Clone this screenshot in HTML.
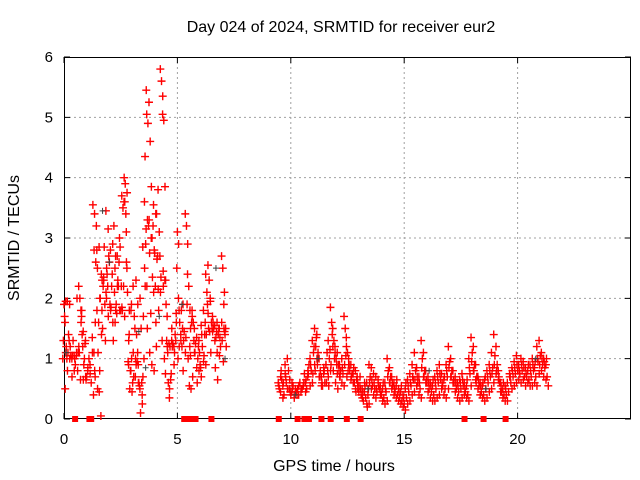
<!DOCTYPE html>
<html><head><meta charset="utf-8"><style>
html,body{margin:0;padding:0;background:#fff;}
svg{display:block;font-family:"Liberation Sans","DejaVu Sans",sans-serif;}
</style></head><body>
<svg id="chart" width="640" height="480" viewBox="0 0 640 480" xmlns="http://www.w3.org/2000/svg">
<rect width="640" height="480" fill="#fff"/>
<text x="341" y="32" font-size="16" text-anchor="middle">Day 024 of 2024, SRMTID for receiver eur2</text>
<text x="334" y="471" font-size="16" text-anchor="middle">GPS time / hours</text>
<text x="19" y="238" font-size="16" text-anchor="middle" transform="rotate(-90 19 238)">SRMTID / TECUs</text>
<g id="grid"></g><g id="axes"></g><g id="marks"></g>
</svg>
<script>
const xTicks=[0,5,10,15,20];
const yTicks=[0,1,2,3,4,5,6];
const groupHours=[0.0,0.1,0.2,0.3,0.4,0.5,0.6,0.7,0.8,0.9,1.0,1.1,1.2,1.3,1.4,1.5,1.6,1.7,1.8,1.9,2.0,2.1,2.2,2.3,2.4,2.5,2.6,2.7,2.8,2.9,3.0,3.1,3.2,3.3,3.4,3.5,3.6,3.7,3.8,3.9,4.0,4.1,4.2,4.3,4.4,4.5,4.6,4.7,4.8,4.9,5.0,5.1,5.2,5.3,5.4,5.5,5.6,5.7,5.8,5.9,6.0,6.1,6.2,6.3,6.4,6.5,6.6,6.7,6.8,6.9,7.0,7.1];
const groupValues=[[1.0,1.9,0.5,1.3,1.7,1.1],[1.6,1.2,0.8,1.95,1.0],[1.95,1.4,1.0,1.1,1.3],[1.9,1.05,0.7,1.2],[1.0,1.3,0.8,1.05],[1.05,0.9,1.1,1.0],[1.05,0.8,1.2,2.0,1.1],[2.2,2.0,1.6,1.1,0.65,1.8],[1.8,1.4,0.65,1.7,1.2],[1.45,1.0,0.7,0.9,1.25],[1.3,0.7,0.85,0.65],[0.8,1.0,0.75],[0.9,0.6,1.1],[1.35,0.4,0.8,3.55,2.8,1.6],[3.4,2.6,1.8,0.7,3.2,0.5,1.1],[2.8,1.1,0.45,2.5,1.6,2.0],[2.85,2.0,1.4,0.8,0.05,2.3],[2.4,1.5,2.3,1.8,2.2],[2.35,1.9,2.1,2.85,1.3,2.5],[3.45,2.4,1.7,2.0,2.2],[3.15,2.6,1.8,2.7,1.9],[2.8,2.2,1.6,1.85,2.4],[2.9,3.2,1.6,1.3,2.1,1.8],[2.5,1.9,2.2,2.7,1.75],[2.7,2.2,1.8,2.3,2.6],[3.0,1.8,1.85,2.85,2.2],[3.7,3.5,4.0,1.8,2.2,3.6],[3.6,3.9,2.6,1.7,3.4,3.75],[3.1,2.1,1.3,2.5,0.95,1.8],[0.9,0.5,1.8,1.4,0.8,1.0],[0.8,0.45,1.1,1.9,0.6],[2.2,1.7,1.0,0.7,1.5,0.9],[0.7,1.4,1.9,2.3,0.95,0.6],[1.1,0.6,2.0,0.9,0.55],[0.5,1.5,0.25,0.1,0.6,0.7],[0.4,1.7,2.5,2.85,1.0,2.2],[3.6,2.9,2.2,4.35,5.45,3.3],[5.05,4.9,3.3,1.5,3.2,1.1,3.15],[5.25,4.6,3.85,2.75,1.75,3.0],[3.0,2.35,2.1,0.9,3.2,2.8],[3.55,2.75,1.6,0.8,2.2,3.4],[3.4,2.65,2.15,1.2,2.7],[3.8,3.1,2.1,1.8,2.7],[5.8,5.6,5.35,2.35,1.3,2.2],[5.05,4.95,3.85,2.45,1.0,2.3],[2.3,1.9,1.2,0.75,1.3],[1.7,0.6,0.5,1.1,1.25],[0.35,0.65,1.5,1.2,0.75],[1.3,1.25,0.9,1.2],[1.2,1.4,1.6,1.1,1.3],[1.75,3.1,2.9,2.5,1.0,1.2],[2.0,1.6,1.3,1.8],[1.4,1.2,0.8,1.8,1.5],[1.9,1.45,1.1,1.3],[3.4,3.2,2.9,1.35,1.9],[2.4,2.2,1.8,1.0,0.55,1.5],[1.2,0.5,1.7,1.05,1.6],[1.8,1.6,1.1,0.7,1.3],[1.5,1.25,0.85,1.1],[1.35,1.0,0.8,0.6,1.2],[1.3,0.9,0.7,1.1,0.85],[1.55,1.2,0.95,1.4],[1.8,1.4,0.9,1.05,1.6],[2.4,2.1,1.75,1.4,1.9],[2.55,2.3,1.95,1.5,1.45],[2.0,1.6,1.45,1.1,1.5],[1.7,1.5,1.3,1.6],[1.55,1.35,1.1,0.85,1.45],[1.6,1.4,1.05,0.65,1.5],[1.5,1.2,1.6,1.35],[2.7,2.5,1.5,1.3,0.95,1.45],[1.9,1.4,1.2,2.1,1.5]];
const lateHours=[9.5,9.6,9.7,9.8,9.9,10.0,10.1,10.2,10.3,10.4,10.5,10.6,10.7,10.8,10.9,11.0,11.1,11.2,11.3,11.4,11.5,11.6,11.7,11.8,11.9,12.0,12.1,12.2,12.3,12.4,12.5,12.6,12.7,12.8,12.9,13.0,13.1,13.2,13.3,13.4,13.5,13.6,13.7,13.8,13.9,14.0,14.1,14.2,14.3,14.4,14.5,14.6,14.7,14.8,14.9,15.0,15.1,15.2,15.3,15.4,15.5,15.6,15.7,15.8,15.9,16.0,16.1,16.2,16.3,16.4,16.5,16.6,16.7,16.8,16.9,17.0,17.1,17.2,17.3,17.4,17.5,17.6,17.7,17.8,17.9,18.0,18.1,18.2,18.3,18.4,18.5,18.6,18.7,18.8,18.9,19.0,19.1,19.2,19.3,19.4,19.5,19.6,19.7,19.8,19.9,20.0,20.1,20.2,20.3,20.4,20.5,20.6,20.7,20.8,20.9,21.0,21.1,21.2,21.3];
const lateValues=[[0.6,0.5,0.7,0.55],[0.45,0.65,0.35,0.8],[0.55,0.4,0.75,0.6],[0.9,0.6,0.5,0.7],[1.0,0.8,0.65,0.5],[0.5,0.4,0.6,0.45],[0.45,0.55,0.35,0.5],[0.4,0.5,0.45],[0.45,0.5,0.55,0.4],[0.4,0.6,0.5],[0.45,0.5,0.55],[0.55,0.75,0.45,0.6],[0.6,0.5,0.8,0.65],[0.7,0.9,0.55,0.75],[1.0,0.8,0.6,0.9],[1.3,1.1,0.9,0.75,1.2],[1.5,1.2,1.0,0.8,1.35],[1.4,1.1,0.7,0.9],[1.0,0.8,0.55,0.7],[0.7,0.55,0.85,0.6],[0.75,0.6,0.9,0.8],[0.9,1.1,0.7,0.6,0.8],[1.3,1.0,0.8,0.55,1.15],[1.85,1.6,1.2,0.9,1.4],[1.5,1.3,1.1,0.8,1.0],[1.2,1.0,0.75,0.6,0.9],[1.1,0.9,0.7,0.5,0.8],[0.9,0.8,0.6,0.7],[1.0,0.75,0.55,0.85],[1.7,1.5,1.2,0.9,1.05],[1.35,1.1,0.9,0.7,0.8],[1.0,0.8,0.65,0.9],[0.9,0.75,0.6,0.7],[0.75,0.6,0.5,0.85],[0.8,0.65,0.5,0.45,0.7],[0.6,0.45,0.7,0.55],[0.55,0.4,0.35,0.5],[0.5,0.3,0.6,0.45],[0.45,0.35,0.25,0.55],[0.6,0.4,0.25,0.2,0.5],[0.9,0.7,0.5,0.6],[0.85,0.55,0.4,0.65],[0.75,0.5,0.35,0.6],[0.7,0.45,0.6,0.5],[0.65,0.5,0.4,0.55],[0.55,0.4,0.3,0.45],[0.5,0.35,0.25,0.6],[0.6,0.45,0.3,0.5],[1.0,0.8,0.6,0.7],[0.85,0.7,0.5,0.6],[0.7,0.55,0.4,0.6],[0.6,0.45,0.35,0.5],[0.55,0.4,0.3,0.65],[0.5,0.35,0.25,0.45],[0.45,0.3,0.2,0.55],[0.4,0.25,0.15,0.35],[0.5,0.35,0.25,0.6],[0.65,0.45,0.3,0.55],[0.75,0.55,0.4,0.6],[0.9,0.65,0.45,0.7],[1.1,0.8,0.55,0.65],[0.85,0.6,0.4,0.7],[0.7,0.5,0.35,0.6],[1.3,1.0,0.7,0.85],[1.1,0.8,0.6,0.7],[0.8,0.6,0.45,0.65],[0.7,0.5,0.35,0.6],[0.6,0.45,0.3,0.55],[0.55,0.4,0.3,0.65],[0.7,0.5,0.35,0.6],[0.8,0.6,0.4,0.7],[0.9,0.65,0.5,0.75],[0.75,0.55,0.4,0.6],[0.65,0.5,0.35,0.7],[0.9,0.7,0.5,0.8],[1.2,0.95,0.7,0.85],[1.0,0.8,0.6,0.7],[0.8,0.6,0.45,0.65],[0.7,0.5,0.35,0.6],[0.6,0.45,0.3,0.55],[0.65,0.5,0.35,0.6],[0.75,0.55,0.4,0.65],[0.6,0.45,0.35,0.5],[0.55,0.4,0.3,0.65],[1.0,0.75,0.55,0.85],[1.35,1.1,0.8,0.95],[1.2,0.9,0.65,0.8],[0.9,0.7,0.5,0.6],[0.7,0.55,0.4,0.65],[0.6,0.45,0.35,0.55],[0.55,0.4,0.3,0.6],[0.65,0.5,0.35,0.7],[0.8,0.6,0.45,0.7],[0.9,0.7,0.5,0.8],[1.1,0.85,0.6,0.75],[1.4,1.05,0.75,0.9],[1.2,0.9,0.65,0.8],[0.8,0.6,0.45,0.7],[0.6,0.45,0.35,0.55],[0.5,0.4,0.3,0.6],[0.55,0.4,0.3,0.5],[0.6,0.45,0.7],[0.75,0.6,0.5,0.7],[0.85,0.7,0.55,0.8],[0.95,0.75,0.6,0.85],[1.05,0.8,0.65,0.9],[0.9,0.75,0.6,0.8],[1.0,0.8,0.65,0.9],[0.95,0.7,0.55,0.85],[0.85,0.7,0.6,0.75],[0.8,0.65,0.55,0.9],[0.9,0.7,0.55,0.8],[1.0,0.8,0.6,0.9],[0.85,0.7,0.55,0.95],[1.2,0.95,0.75,1.0],[1.3,1.05,0.8,0.9],[1.1,0.9,0.7,1.0],[1.0,0.85,0.65,0.95],[0.9,0.7,0.55,1.0]];
const greyHours=[0.1,1.7,2.0,3.3,3.6,4.2,5.2,6.7,7.1,10.2,11.2,13.4,16.1,18.6,20.8];
const greyValues=[1.1,3.45,2.6,1.45,0.85,1.7,1.9,2.5,1.0,0.4,1.0,0.5,0.8,0.5,1.0];
const zeroHours=[0.49,1.12,1.2,5.3,5.35,5.5,5.6,5.7,5.8,6.5,9.47,10.3,10.6,10.8,11.35,11.76,12.47,13.08,17.66,18.5,19.47];

const L=64,R=631,T=57,B=419,XMAX=25,YMAX=6;
const sx=h=>L+h/XMAX*(R-L);
const sy=v=>B-v/YMAX*(B-T);
const NS='http://www.w3.org/2000/svg';
function mk(tag,attrs,parent){const e=document.createElementNS(NS,tag);for(const k in attrs)e.setAttribute(k,attrs[k]);parent.appendChild(e);return e;}
const grid=document.getElementById('grid'),axes=document.getElementById('axes'),marks=document.getElementById('marks');
xTicks.forEach(t=>{
  const x=sx(t);
  if(t>0){const g=mk('line',{x1:x,y1:T,x2:x,y2:B,stroke:'#a0a0a0','stroke-dasharray':'2,3'},grid);
  
  }
  const tk=mk('path',{d:`M${x} ${B}v-6M${x} ${T}v6`,stroke:'#000'},axes);
  
  
  const lb=mk('text',{x:x,y:B+25,'font-size':15,'text-anchor':'middle'},axes);lb.textContent=t;
  
  
});
yTicks.forEach(t=>{
  const y=sy(t);
  if(t>0&&t<YMAX){const g=mk('line',{x1:L,y1:y,x2:R,y2:y,stroke:'#a0a0a0','stroke-dasharray':'2,3'},grid);
  
  }
  const tk=mk('path',{d:`M${L} ${y}h6M${R} ${y}h-6`,stroke:'#000'},axes);
  
  
  const lb=mk('text',{x:L-11,y:y+5,'font-size':15,'text-anchor':'end'},axes);lb.textContent=t;
  
  
});
const frame=mk('rect',{x:L+0.5,y:T+0.5,width:R-L-1,height:B-T-1,fill:'none',stroke:'#000'},axes);


let d='';
const off=[-1.2,0,1.2,-0.6,0.6,1.8,-1.8];
groupHours.forEach((h,i)=>groupValues[i].forEach((v,j)=>{const x=sx(h)+off[j%7],y=sy(v);d+=`M${x-4} ${y}h8M${x} ${y-4}v8`;}));
lateHours.forEach((h,i)=>lateValues[i].forEach((v,j)=>{const x=sx(h)+off[j%7],y=sy(v);d+=`M${x-4} ${y}h8M${x} ${y-4}v8`;}));
const red=mk('path',{d:d,stroke:'#ff0000','stroke-width':1.4,fill:'none'},marks);


let dg='';
greyHours.forEach((h,i)=>{const x=sx(h),y=sy(greyValues[i]);dg+=`M${x-3} ${y}h6M${x} ${y-3}v6`;});
const grey=mk('path',{d:dg,stroke:'#404040','stroke-width':1,fill:'none'},marks);


let dz='';
zeroHours.forEach(h=>{const x=sx(h);dz+=`M${x-3} ${B-3}h6v6h-6z`;});
const zero=mk('path',{d:dz,fill:'#ff0000'},marks);


</script>
</body></html>
